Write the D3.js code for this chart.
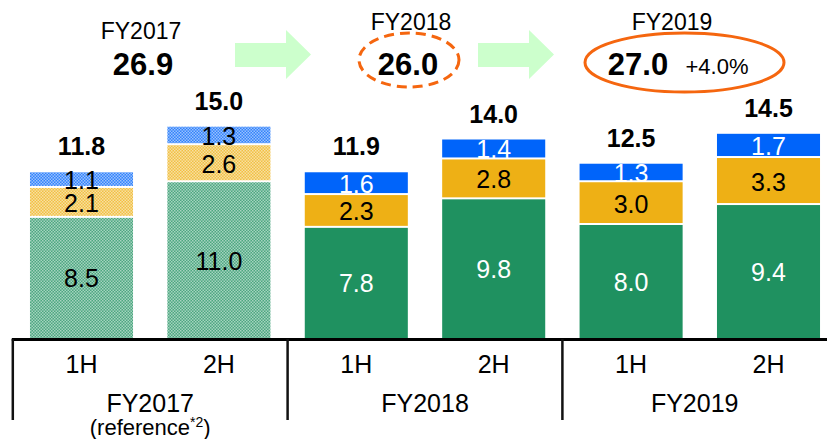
<!DOCTYPE html>
<html><head><meta charset="utf-8">
<script src="https://cdn.jsdelivr.net/npm/d3@7"></script>
<style>
html,body{margin:0;padding:0;background:#fff;}
svg{display:block;font-family:"Liberation Sans",Arial,sans-serif;}
</style></head>
<body>
<svg id="chart" width="827" height="439"></svg>
<script>
// ---- data ----
const halves = ["1H", "2H", "1H", "2H", "1H", "2H"];
const years = ["FY2017", "FY2017", "FY2018", "FY2018", "FY2019", "FY2019"];
const isReference = [true, true, false, false, false, false];
const greenValues = [8.5, 11.0, 7.8, 9.8, 8.0, 9.4];
const orangeValues = [2.1, 2.6, 2.3, 2.8, 3.0, 3.3];
const blueValues = [1.1, 1.3, 1.6, 1.4, 1.3, 1.7];
const totalLabels = ["11.8", "15.0", "11.9", "14.0", "12.5", "14.5"];
const fyNames = ["FY2017", "FY2018", "FY2019"];
const fyTotals = ["26.9", "26.0", "27.0"];
const fyGrowth = "+4.0%";
const fySubLabels = ["(reference*2)", "", ""];

// ---- setup ----
const svg = d3.select("#chart");
const ids = halves.map((h, i) => i);
const x = d3.scaleBand().domain(ids).range([12.8, 837.2]).paddingInner(0.25).paddingOuter(0.125);
const y = d3.scaleLinear().domain([0, 15]).range([339, 339 - 15 * 14.25]);
const step = x.step(), bw = x.bandwidth();
const gapHalf = (step - bw) / 2;

const colors = { green: "#1f9160", orange: "#eeb015", blue: "#0064fa" };

// patterns for reference bars
const defs = svg.append("defs");
Object.entries(colors).forEach(([k, c]) => {
  const p = defs.append("pattern").attr("id", "pat-" + k).attr("patternUnits", "userSpaceOnUse")
    .attr("width", 3).attr("height", 3);
  p.append("rect").attr("width", 3).attr("height", 3).attr("fill", c).attr("opacity", 0.8);
  p.append("rect").attr("x", 0).attr("y", 0).attr("width", 1.5).attr("height", 1.5).attr("fill", "#fff").attr("opacity", 0.5);
  p.append("rect").attr("x", 1.5).attr("y", 1.5).attr("width", 1.5).attr("height", 1.5).attr("fill", "#fff").attr("opacity", 0.5);
});

// stack
const series = [
  { key: "green", values: greenValues, text: (ref) => ref ? "#000" : "#fff" },
  { key: "orange", values: orangeValues, text: () => "#000" },
  { key: "blue", values: blueValues, text: (ref) => ref ? "#000" : "#fff" }
];
const segs = [];
ids.forEach(i => {
  let base = 0;
  series.forEach((s, si) => {
    const v = s.values[i];
    segs.push({ i, si, key: s.key, y0: base, y1: base + v, v, color: s.text(isReference[i]) });
    base += v;
  });
});

const g = svg.append("g");
g.selectAll("rect.seg").data(segs).join("rect").attr("class", "seg")
  .attr("x", d => x(d.i))
  .attr("width", bw)
  .attr("y", d => y(d.y1))
  .attr("height", d => y(d.y0) - y(d.y1) - (d.si > 0 ? 2 : 0))
  .attr("fill", d => isReference[d.i] ? "url(#pat-" + d.key + ")" : colors[d.key]);

g.selectAll("text.seg").data(segs).join("text").attr("class", "seg")
  .attr("x", d => x(d.i) + bw / 2)
  .attr("y", d => (y(d.y0) + y(d.y1)) / 2 + 9)
  .attr("text-anchor", "middle")
  .attr("font-size", 25)
  .attr("fill", d => d.color)
  .text(d => d.v.toFixed(1));

// totals
g.selectAll("text.total").data(ids).join("text").attr("class", "total")
  .attr("x", i => x(i) + bw / 2)
  .attr("y", i => y(greenValues[i] + orangeValues[i] + blueValues[i]) - 17)
  .attr("text-anchor", "middle")
  .attr("font-size", 25).attr("font-weight", "bold")
  .text(i => totalLabels[i]);

// axis lines
svg.append("line").attr("x1", x(0) - gapHalf - 1).attr("x2", 827).attr("y1", 339.5).attr("y2", 339.5)
  .attr("stroke", "#000").attr("stroke-width", 3);
const groupStarts = [0, 2, 4];
groupStarts.forEach(i => {
  const lx = x(i) - gapHalf;
  svg.append("line").attr("x1", lx).attr("x2", lx).attr("y1", 339).attr("y2", 420)
    .attr("stroke", "#111").attr("stroke-width", 2.5);
});

// half labels
svg.selectAll("text.half").data(ids).join("text").attr("class", "half")
  .attr("x", i => x(i) + bw / 2).attr("y", 373)
  .attr("text-anchor", "middle").attr("font-size", 25)
  .text(i => halves[i]);

// FY labels
groupStarts.forEach((i, k) => {
  const cx = k < 2 ? (x(i) - gapHalf + x(i + 2) - gapHalf) / 2 : (x(i) - gapHalf + 827) / 2;
  svg.append("text").attr("x", cx).attr("y", 412).attr("text-anchor", "middle").attr("font-size", 25).text(fyNames[k]);
  if (fySubLabels[k]) {
    const t = svg.append("text").attr("x", cx).attr("y", 435).attr("text-anchor", "middle").attr("font-size", 22);
    t.append("tspan").text("(reference");
    t.append("tspan").attr("font-size", 14).attr("dy", -8).text("*2");
    t.append("tspan").attr("dy", 8).text(")");
  }
});

// header
const head = svg.append("g");
const headerPos = [
  { cx: 141, fyY: 39, valX: 143, valY: 75 },
  { cx: 411, fyY: 30, valX: 408, valY: 75 },
  { cx: 672, fyY: 30, valX: 638, valY: 75 }
];
headerPos.forEach((p, k) => {
  head.append("text").attr("x", p.cx).attr("y", p.fyY).attr("text-anchor", "middle").attr("font-size", 23).text(fyNames[k]);
  head.append("text").attr("x", p.valX).attr("y", p.valY).attr("text-anchor", "middle")
    .attr("font-size", 31).attr("font-weight", "bold").text(fyTotals[k]);
});
head.append("text").attr("x", 717).attr("y", 74).attr("text-anchor", "middle").attr("font-size", 22).text(fyGrowth);

// ellipses
head.append("ellipse").attr("cx", 409).attr("cy", 60).attr("rx", 50).attr("ry", 27)
  .attr("fill", "none").attr("stroke", "#f5660f").attr("stroke-width", 3).attr("stroke-dasharray", "10,6");
head.append("ellipse").attr("cx", 684.5).attr("cy", 62.5).attr("rx", 99.5).attr("ry", 29.5)
  .attr("fill", "none").attr("stroke", "#f5660f").attr("stroke-width", 3);

// arrows
[235, 478].forEach(ax => {
  const pts = [[ax, 43], [ax + 51, 43], [ax + 51, 30], [ax + 76, 54.5], [ax + 51, 79], [ax + 51, 67], [ax, 67]];
  head.append("polygon").attr("points", pts.map(p => p.join(",")).join(" ")).attr("fill", "#ccffcc");
});
</script>
</body></html>
